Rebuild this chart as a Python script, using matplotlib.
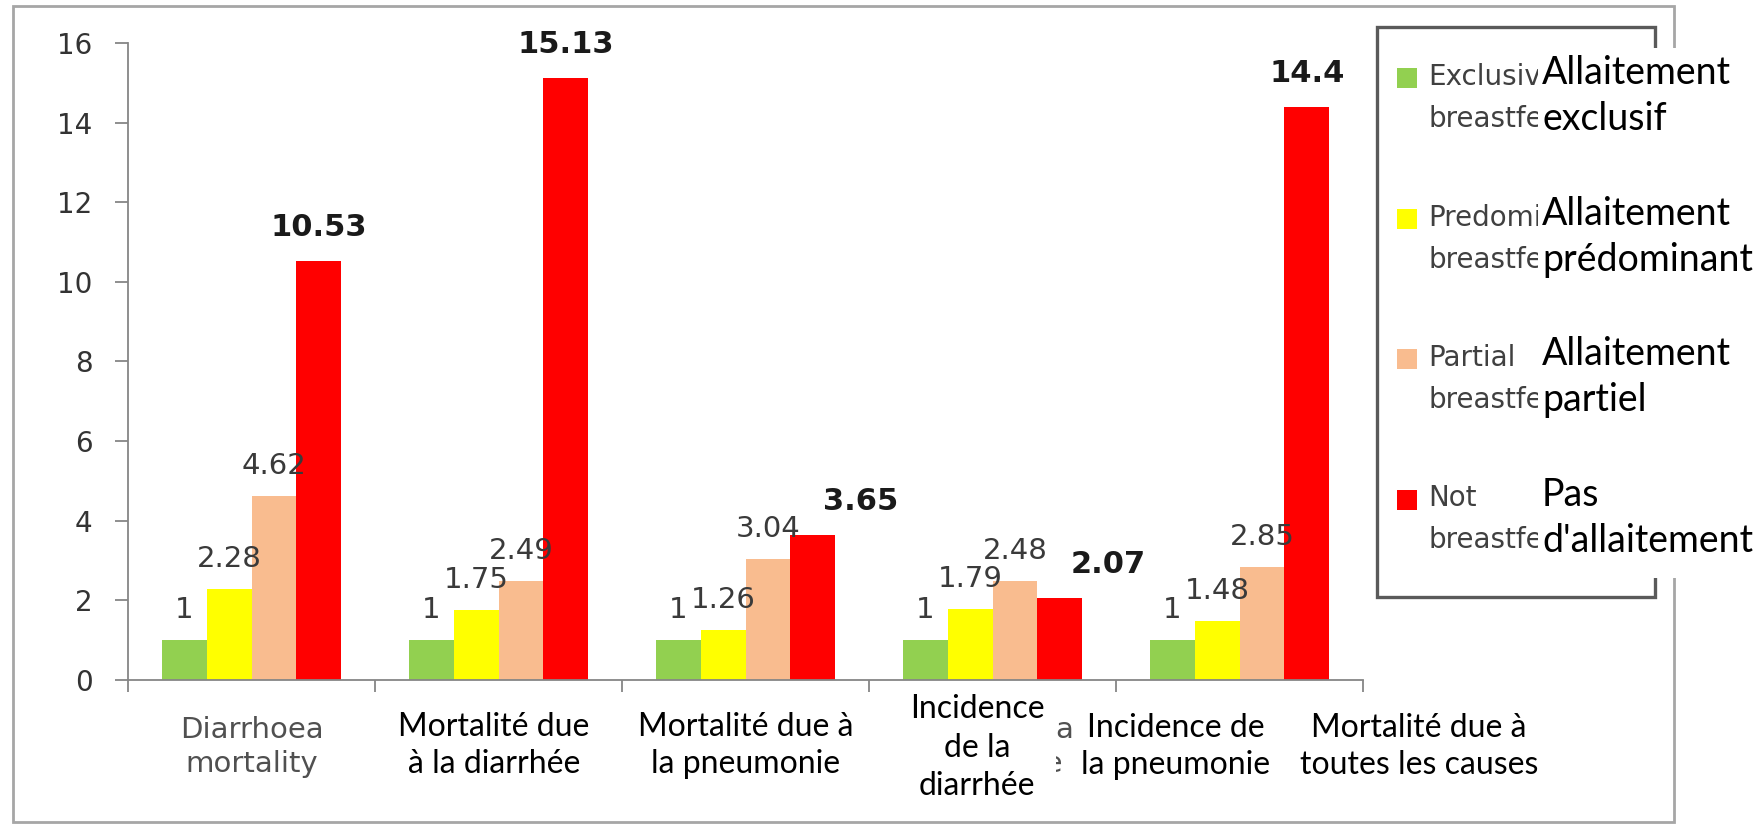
import numpy as np
import matplotlib
matplotlib.use("Agg")
import matplotlib.pyplot as plt
from matplotlib.patches import Rectangle

# ========================
# DATA
# ========================
groups_en = ["Diarrhoea\nmortality", "Pneumonia\nmortality", "Diarrhoea\nincidence",
             "Pneumonia\nincidence", "All-cause\nmortality"]
exclusive = [1, 1, 1, 1, 1]
predominant = [2.28, 1.75, 1.26, 1.79, 1.48]
partial = [4.62, 2.49, 3.04, 2.48, 2.85]
not_bf = [10.53, 15.13, 3.65, 2.07, 14.4]

legend_en = [("Exclusive", "breastfeeding"), ("Predominant", "breastfeeding"),
             ("Partial", "breastfeeding"), ("Not", "breastfeeding")]
legend_fr = [("Allaitement", "exclusif"), ("Allaitement", "prédominant"),
             ("Allaitement", "partiel"), ("Pas", "d'allaitement")]

# French overlay labels pasted over the category axis
labels_fr = [["Mortalité due", "à la diarrhée"],
             ["Mortalité due à", "la pneumonie"],
             ["Incidence", "de la", "diarrhée"],
             ["Incidence de", "la pneumonie"],
             ["Mortalité due à", "toutes les causes"]]

COLORS = ["#92D050", "#FFFF00", "#F9BC8F", "#FF0000"]

# ========================
# LAYOUT (pixels, figure is 1760x824 at dpi 100)
# ========================
W, H = 1760, 824
PT = 0.72  # points per pixel


def fx(px):
    return px / W


def fy(py):
    return 1 - py / H


fig = plt.figure(figsize=(W / 100, H / 100), dpi=100)
ax = fig.add_axes([fx(128), fy(680), 1235 / W, 637 / H])

x = np.arange(len(groups_en))
bw = 0.182
red_dx = [0, 0, 48, 48, 0]  # bold labels of the last series are nudged in the source

for i, (vals, col) in enumerate(zip([exclusive, predominant, partial, not_bf], COLORS)):
    bars = ax.bar(x + (i - 1.5) * bw, vals, bw, color=col, edgecolor="none", zorder=2)
    for j, (b, v) in enumerate(zip(bars, vals)):
        cx = b.get_x() + b.get_width() / 2
        if i == 3:
            ax.annotate(f"{v:g}", (cx, v), xytext=(red_dx[j] * PT, 25 * PT),
                        textcoords="offset points", ha="center", va="baseline",
                        fontsize=22, fontweight="bold", color="#1a1a1a")
        else:
            ax.annotate(f"{v:g}", (cx, v), xytext=(0, 22 * PT),
                        textcoords="offset points", ha="center", va="baseline",
                        fontsize=21, color="#3a3a3a")

ax.set_xlim(-0.5, 4.5)
ax.set_ylim(0, 16)
ax.set_yticks(np.arange(0, 17, 2))
ax.set_xticks(x)
ax.set_xticklabels(groups_en, fontsize=21, color="#505050", linespacing=1.25)
ax.set_xticks(np.arange(-0.5, 5, 1), minor=True)

for s in ["top", "right"]:
    ax.spines[s].set_visible(False)
for s in ["left", "bottom"]:
    ax.spines[s].set_color("#868686")
    ax.spines[s].set_linewidth(1.3)

ax.tick_params(axis="y", length=9.5, width=1.3, color="#868686", pad=16,
               labelsize=20, labelcolor="#333333")
ax.tick_params(axis="x", which="major", length=0, pad=26)
ax.tick_params(axis="x", which="minor", length=8.5, width=1.3, color="#868686")

# ========================
# FRAME + LEGEND
# ========================
fig.add_artist(Rectangle((fx(13), fy(822)), (1674 - 13) / W, (822 - 6) / H,
                         transform=fig.transFigure, fill=False,
                         edgecolor="#a6a6a6", lw=2, zorder=0.8))
fig.add_artist(Rectangle((fx(1377), fy(597)), (1655 - 1377) / W, (597 - 27) / H,
                         transform=fig.transFigure, facecolor="white",
                         edgecolor="#5a5a5a", lw=2.4, zorder=0.85))

entry_y = [78, 218.5, 359, 499.5]
for (l1, l2), col, cy in zip(legend_en, COLORS, entry_y):
    fig.add_artist(Rectangle((fx(1397), fy(cy + 10)), 20 / W, 20 / H,
                             transform=fig.transFigure, facecolor=col,
                             edgecolor="none", zorder=0.9))
    fig.text(fx(1428), fy(cy + 7), l1, fontsize=20, color="#404040",
             va="baseline", zorder=0.9)
    fig.text(fx(1428), fy(cy + 49), l2, fontsize=20, color="#404040",
             va="baseline", zorder=0.9)

# ========================
# FRENCH OVERLAYS (white patches over the original English text)
# ========================
covers = [(1538, 48, 1760, 578),
          (392, 694, 600, 792),
          (618, 694, 872, 792),
          (900, 688, 1056, 812),
          (1080, 694, 1290, 792),
          (1290, 694, 1548, 792)]
for x0, y0, x1, y1 in covers:
    fig.add_artist(Rectangle((fx(x0), fy(y1)), (x1 - x0) / W, (y1 - y0) / H,
                             transform=fig.transFigure, facecolor="white",
                             edgecolor="none", zorder=1))

FR = dict(family="Lato", color="black", zorder=3)
for (l1, l2), cy in zip(legend_fr, entry_y):
    fig.text(fx(1542), fy(cy + 6), l1, va="baseline", fontsize=27, **FR)
    fig.text(fx(1542), fy(cy + 52), l2, va="baseline", fontsize=27, **FR)

label_cx = [494, 746, 977, 1176, 1419]
label_base = [[736, 773], [736, 773], [718, 757, 795], [737, 774], [737, 774]]
for lines, cx, bases in zip(labels_fr, label_cx, label_base):
    for txt, by in zip(lines, bases):
        fig.text(fx(cx), fy(by), txt, ha="center", va="baseline", fontsize=23, **FR)

plt.savefig("out.png", dpi=100)
plt.close()
